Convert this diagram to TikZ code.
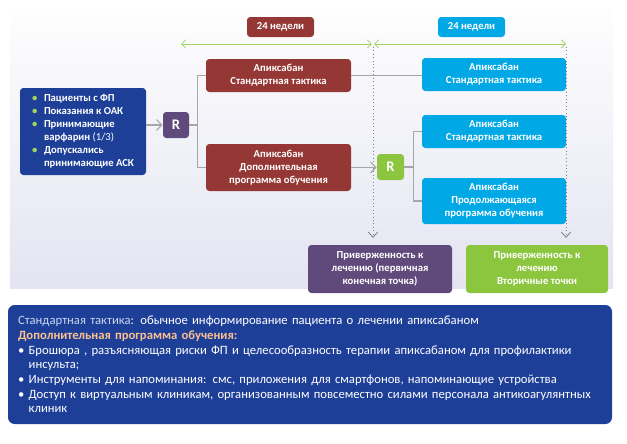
\documentclass[tikz,border=0pt]{standalone}
\usepackage{fontspec}
\setmainfont{Carlito}
\usetikzlibrary{arrows.meta}
\definecolor{wine}{HTML}{953735}
\definecolor{sky}{HTML}{00A8E6}
\definecolor{plum}{HTML}{604A7B}
\definecolor{lime}{HTML}{8CC63F}
\definecolor{navy}{HTML}{1E3F98}
\definecolor{leaf}{HTML}{9ED35F}
\definecolor{peach}{HTML}{FAC08F}
\definecolor{paleblue}{HTML}{C9D6EE}
\definecolor{lilac}{HTML}{E4E4F2}
\def\bul{{\color{leaf}\textbullet}}
\tikzset{
  box/.style={draw=none, rounded corners=2.5pt, text=white, align=center,
    font=\fontsize{8}{9.75}\selectfont\bfseries, inner sep=2pt},
  winebox/.style={box, fill=wine},
  skybox/.style={box, fill=sky},
  plumbox/.style={box, fill=plum},
  limebox/.style={box, fill=lime},
  navybox/.style={box, fill=navy},
  link/.style={draw=black!35, line width=0.9pt},
  linkarrow/.style={link, -{Straight Barb[length=4pt,width=8pt]}},
  weekarrow/.style={draw=leaf, line width=0.6pt,
    {Straight Barb[length=3pt,width=6pt]}-{Straight Barb[length=3pt,width=6pt]}},
  dotline/.style={draw=black!50, line width=0.6pt, dotted,
    -{Straight Barb[length=4pt,width=7pt]}}
}
\begin{document}
\begin{tikzpicture}[x=0.75pt,y=-0.75pt]
			%%%%% START %%%%%
			\useasboundingbox (0,0) rectangle (627,443);
			\shade[top color=white!96!lilac, bottom color=lilac] (10,8) rectangle (613,288);
			
			\node[winebox, minimum width=50.25pt, minimum height=15pt] (wk1) at (280.5,27) {24 недели};
			\node[skybox, minimum width=50.25pt, minimum height=15pt] (wk2) at (471.5,27) {24 недели};
			
			\coordinate (w0) at (181,44);
			\coordinate (w1) at (373,44);
			\coordinate (w2) at (566,44);
			\coordinate (e1) at (373,238);
			\coordinate (e2) at (566,238);
			\draw[weekarrow] (w0) -- ([xshift=-0.8pt]w1);
			\draw[weekarrow] ([xshift=0.8pt]w1) -- (w2);
			\draw[dotline] ([yshift=-2pt]w1) -- (e1);
			\draw[dotline] ([yshift=-2pt]w2) -- (e2);
			
			\node[navybox, minimum width=94.5pt, minimum height=65.25pt] (pat) at (83,131.5) {%
				\begin{tabular}{@{}l@{\hspace{5pt}}l@{}}
				\bul & Пациенты с ФП\\
				\bul & Показания к ОАК\\
				\bul & Принимающие\\
				     & варфарин {\mdseries(1/3)}\\
				\bul & Допускались\\
				     & принимающие АСК
				\end{tabular}};
			\node[plumbox, font=\fontsize{11}{12}\selectfont\bfseries, minimum width=19.5pt, minimum height=19.5pt] (r1) at (176,125) {R};
			
			\node[winebox, minimum width=108.75pt, minimum height=24.75pt] (red1) at (278.5,75.5) {Апиксабан\\Стандартная тактика};
			\node[winebox, minimum width=108.75pt, minimum height=35.25pt] (red2) at (278.5,167.5) {Апиксабан\\Дополнительная\\программа обучения};
			
			\node[limebox, font=\fontsize{11}{12}\selectfont\bfseries, minimum width=20.25pt, minimum height=19.5pt] (r2) at (390.5,167) {R};
			
			\node[skybox, minimum width=108pt, minimum height=24.75pt] (cy1) at (494,74.5) {Апиксабан\\Стандартная тактика};
			\node[skybox, minimum width=108pt, minimum height=24.75pt] (cy2) at (494,131.5) {Апиксабан\\Стандартная тактика};
			\node[skybox, minimum width=108pt, minimum height=34.5pt] (cy3) at (494,201) {Апиксабан\\Продолжающаяся\\программа обучения};
			
			\node[plumbox, minimum width=108pt, minimum height=36pt] (out1) at (380,269) {Приверженность к\\лечению (первичная\\конечная точка)};
			\node[limebox, minimum width=106.5pt, minimum height=36pt] (out2) at (537,269) {Приверженность к\\лечению\\Вторичные точки};
			
			\draw[linkarrow] (pat.east |- r1.west) -- (r1.west);
			\draw[link] (r1.east) -- ++(8,0) |- (red1.west);
			\draw[link] (r1.east) -- ++(8,0) |- (red2.west);
			\draw[link] (red1.east) -- (red1.east -| cy1.west);
			\draw[linkarrow] (red2.east) -- (red2.east -| r2.west);
			\draw[link] (r2.east) -- ++(9,0) |- (cy2.west);
			\draw[link] (r2.east) -- ++(9,0) |- (cy3.west);
			
			\node[box, fill=navy, rounded corners=5pt, font=\fontsize{9.5}{11}\selectfont, align=left,
				minimum width=453pt, minimum height=89.25pt, text width=438pt, inner xsep=7.5pt] (note) at (310,364.5) {%
				{\color{paleblue}Стандартная тактика}: обычное информирование пациента о лечении апиксабаном\\
				{\color{peach}\bfseries Дополнительная программа обучения:}\\
				\makebox[8pt][l]{\textbullet}Брошюра , разъясняющая риски ФП и целесообразность терапии апиксабаном для профилактики\\
				\hspace*{8pt}инсульта;\\
				\makebox[8pt][l]{\textbullet}Инструменты для напоминания: смс, приложения для смартфонов, напоминающие устройства\\
				\makebox[8pt][l]{\textbullet}Доступ к виртуальным клиникам, организованным повсеместно силами персонала антикоагулянтных\\
				\hspace*{8pt}клиник};
			%%%%% END %%%%%
\end{tikzpicture}
\end{document}
